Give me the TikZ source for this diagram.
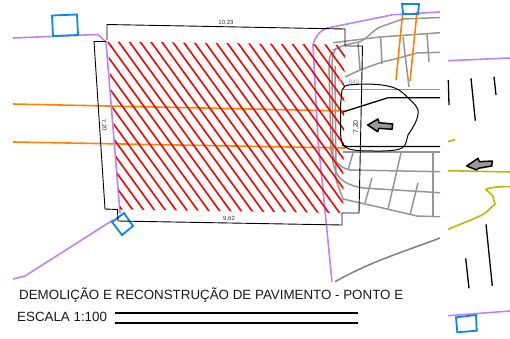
\documentclass[tikz,border=0pt]{standalone}
\usepackage{fontspec}
\setmainfont{Liberation Sans}
\definecolor{purp}{RGB}{190,130,250}
\definecolor{bl}{RGB}{10,135,240}
\definecolor{org}{RGB}{255,130,0}
\definecolor{yel}{RGB}{190,185,0}
\definecolor{gr}{RGB}{150,150,150}
\tikzset{
 purpline/.style={draw=purp,line width=1.6pt,line join=round},
 bluebox/.style={draw=bl,line width=1.8pt},
 orangeline/.style={draw=org,line width=1.6pt},
 hatchline/.style={draw=red,line width=1.6pt},
 greyline/.style={draw=gr,line width=1.5pt},
 blackline/.style={draw=black,line width=1.3pt},
 dimline/.style={draw=black,line width=0.9pt},
 yellowline/.style={draw=yel,line width=1.6pt,line join=round},
 arrowshape/.style={draw=black,fill=gray!80,line width=1.5pt,line join=round},
 dimtext/.style={font=\fontsize{6}{7}\selectfont,text=black!80,inner sep=0pt},
 titletext/.style={font=\fontsize{13.35}{15}\selectfont,anchor=base west,inner sep=0pt,text=black!90}
}
\begin{document}
\begin{tikzpicture}[x=1pt,y=-1pt]
\useasboundingbox (0,0) rectangle (510,338);
% grey street lines
\draw[greyline] (333,50) -- (345,45) -- (360,41.7) .. controls (370,36) and (372,31) .. (380,27) -- (403,19) -- (440,17.5);
\draw[greyline] (333,42.7) -- (380,37) -- (440,32.7);
\draw[greyline] (345,77) -- (360,70) -- (382,62) -- (395,59) -- (417,53) -- (440,52.3);
\draw[greyline] (380.7,38) -- (382,64);
\draw[greyline] (403,37) -- (409,87);
\draw[greyline] (427,34) -- (429,62);
\draw[greyline] (358,43) -- (360,70);
\draw[greyline] (343,89.5) -- (440,89.5);
\draw[greyline] (343,152) -- (440,152);
\draw[greyline] (333,52) .. controls (329,56) and (329,60) .. (329,66) -- (331,150) .. controls (333,160) and (340,168) .. (350,170) -- (440,171.7);
\draw[greyline] (336,48) .. controls (332,56) and (332,60) .. (332,66) -- (333,163) .. controls (336,175) and (340,184) .. (363,188) -- (440,192.7);
\draw[greyline] (335,66) -- (336,180) -- (343,199) -- (387,209) -- (417,216) -- (440,216.7);
\draw[greyline] (353,153) -- (348,170);
\draw[greyline] (372,178) -- (365,203);
\draw[greyline] (401,153) -- (388,209);
\draw[greyline] (418,183) -- (410,215);
\draw[greyline] (433,153) -- (433,217);
\draw[greyline,draw=gray] (335,281.7) .. controls (370,262) and (400,253) .. (440,238);
% orange lines
\draw[orangeline] (13,104) -- (345,111);
\draw[orangeline] (13,142) -- (345,148);
\draw[orangeline] (403,10) -- (396,80);
\draw[orangeline] (417,12) -- (410,81);
% purple boundary
\draw[purpline] (13,38) -- (98,34.5) -- (106,42) -- (120,213);
\draw[purpline] (113,220) -- (25,276) -- (13,279);
\draw[purpline] (332,281.7) -- (318,140) -- (313,45) .. controls (315,36) and (322,28) .. (330,27.5) -- (393,14.7) -- (440,12);
\draw[purpline] (448,60.7) -- (510,58);
\draw[purpline] (448,315.7) -- (510,311);
% blue squares
\draw[bluebox] (52,15.5) -- (77,14.5) -- (78,35) -- (53,36) -- cycle;
\draw[bluebox] (124,213) -- (133,226) -- (122,235) -- (112,222) -- cycle;
\draw[bluebox] (402,4) -- (419,4) -- (418,14) -- (403,14) -- cycle;
\draw[bluebox] (456,317.3) -- (476,315) -- (476.7,330.7) -- (457.3,332.3) -- cycle;
% hatching
\begin{scope}
\clip (107.5,41.5) -- (333,44.5) -- (345,46) -- (343,213) -- (120,209.5) -- cycle;
\foreach \k in {-15,...,22}{
  \draw[hatchline] ({107.7+10.77*\k},41.5) -- ({107.7+10.77*\k+180/1.38},221.5);
}
\end{scope}
% dimensions
\draw[dimline] (107,40) -- (107,24.5) -- (345,29) -- (345,46) -- (362.5,46) -- (359,213) -- (342,213) -- (342,225) -- (118,221) -- (117.5,209.5) -- (105,209) -- (94,41.5) -- (106,41.5);
\node[dimtext] (d1) at (226,22.5) {10,23};
\node[dimtext] (d2) at (229,218.5) {9,62};
\node[dimtext,rotate=-86] (d3) at (104,125) {7,20};
\node[dimtext,font=\fontsize{7}{8}\selectfont,rotate=90] (d4) at (356,127) {7,20};
\node[dimtext,text=gr,font=\fontsize{6.5}{7}\selectfont] (d5) at (354,82) {840};
\node[dimtext,text=gr!60,rotate=80] (d6) at (341,80) {P8};
% black road lines and outline
\draw[blackline] (343,112) -- (388,97.7) -- (440,97.7);
\draw[blackline] (342,145) -- (347,146.5) -- (440,146.5);
\draw[blackline,line width=1pt] (345,86) .. controls (350,84) and (355,85) .. (360,84) .. controls (372,84) and (394,84) .. (403,93) .. controls (410,100) and (416,104) .. (418,110) .. controls (419,118) and (414,126) .. (408,135) .. controls (406,142) and (406,146) .. (402,148) .. controls (395,152) and (375,151) .. (360,150.7) .. controls (352,150) and (344,149) .. (342,143) .. controls (340,135) and (340.7,132) .. (340.7,127) -- (340.7,103) -- (342,90) -- cycle;
\draw[blackline] (448.3,80) -- (449,105);
\draw[blackline] (471,78.3) -- (475.3,120.7);
\draw[blackline] (494,76.7) -- (496,95);
\draw[blackline] (465.7,258.3) -- (469,288.3);
\draw[blackline] (486,224.3) -- (492.3,286);
% arrows
\draw[arrowshape] (367.7,125) -- (378,119) -- (379,122.7) -- (392.7,124) -- (392,129.3) -- (379,128.3) -- (377.7,131.7) -- cycle;
% yellow
\draw[yellowline] (448,170.7) -- (510,172);
\draw[yellowline] (448,141.5) -- (455,139.5);
\draw[yellowline] (510,186.7) .. controls (500,186.5) and (492,187) .. (485.7,189.3) .. controls (488,192) and (491,193) .. (492.7,196) -- (495,204) -- (485,213.3) .. controls (475,219) and (460,224) .. (448,229.3);
\draw[arrowshape] (466.7,166) -- (478,158.3) -- (479.3,161.7) -- (492.3,161) -- (491.7,166) -- (478.3,168.3) -- (476.7,170) -- cycle;
% title
\node[titletext] (t1) at (19,299.5) {DEMOLIÇÃO E RECONSTRUÇÃO DE PAVIMENTO - PONTO E};
\node[titletext] (t2) at (17,321.5) {ESCALA 1:100};
\draw[line width=1.7pt] (114.5,312.7) -- (357.5,312.7);
\draw[line width=1.7pt] (114.5,322.7) -- (357.5,322.7);
\end{tikzpicture}
\end{document}
